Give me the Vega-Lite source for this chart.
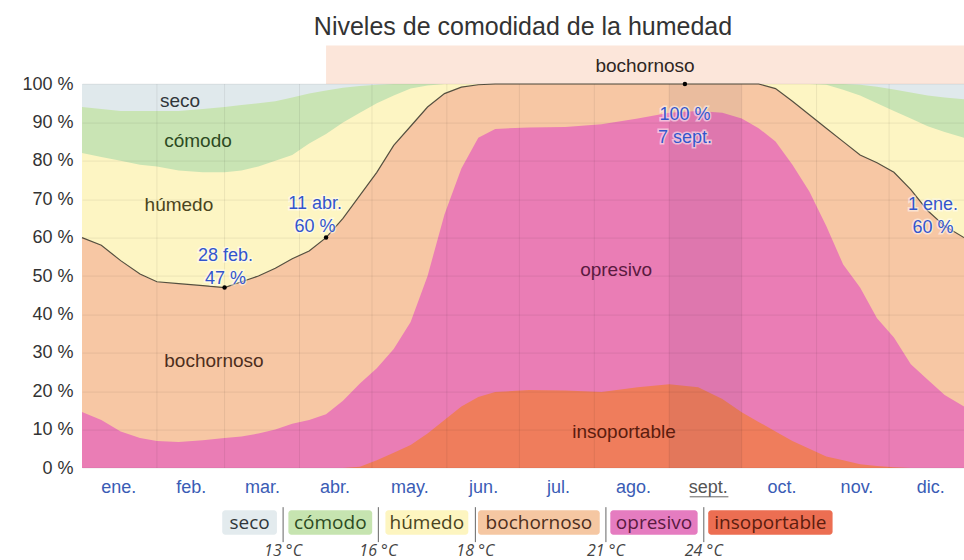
{
  "$schema": "https://vega.github.io/schema/vega-lite/v6.json",
  "width": 882,
  "height": 422.4,
  "autosize": "none",
  "padding": {"left": 82, "top": 45.6, "right": 0, "bottom": 92},
  "background": "white",
  "config": {"view": {"stroke": null}, "font": "Liberation Sans"},
  "title": {"text": "Niveles de comodidad de la humedad", "fontSize": 25, "font": "Liberation Sans", "fontWeight": "normal", "color": "#333333", "anchor": "middle", "frame": "group", "offset": -14, "baseline": "alphabetic"},
  "datasets": {
    "comfort": [
      {"d": 0, "I": 0, "O": 14.6, "B": 60, "H": 82, "C": 94},
      {"d": 8, "I": 0, "O": 12.5, "B": 58, "H": 81, "C": 93.5},
      {"d": 16, "I": 0, "O": 9.5, "B": 54, "H": 80, "C": 93},
      {"d": 24, "I": 0, "O": 7.8, "B": 50.5, "H": 79, "C": 93},
      {"d": 31, "I": 0, "O": 7, "B": 48.5, "H": 78.5, "C": 93},
      {"d": 40, "I": 0, "O": 6.8, "B": 48, "H": 77.5, "C": 93},
      {"d": 50, "I": 0, "O": 7.2, "B": 47.5, "H": 77, "C": 93.5},
      {"d": 59, "I": 0, "O": 7.8, "B": 47, "H": 77, "C": 94},
      {"d": 66, "I": 0, "O": 8.2, "B": 48.5, "H": 77.5, "C": 94.5},
      {"d": 73, "I": 0, "O": 9, "B": 50, "H": 78.5, "C": 95},
      {"d": 80, "I": 0, "O": 10, "B": 52, "H": 80, "C": 95.5},
      {"d": 87, "I": 0, "O": 11.5, "B": 54.5, "H": 81.5, "C": 96.5},
      {"d": 94, "I": 0, "O": 12.5, "B": 56.5, "H": 84.5, "C": 97.5},
      {"d": 101, "I": 0, "O": 14, "B": 60, "H": 87, "C": 98.3},
      {"d": 108, "I": 0, "O": 17.5, "B": 65, "H": 90, "C": 99},
      {"d": 115, "I": 0.3, "O": 22, "B": 71, "H": 92.5, "C": 99.5},
      {"d": 122, "I": 2, "O": 26, "B": 77, "H": 95, "C": 99.8},
      {"d": 129, "I": 4, "O": 31, "B": 84, "H": 97, "C": 100},
      {"d": 136, "I": 6, "O": 38, "B": 89, "H": 98.8, "C": 100},
      {"d": 143, "I": 9, "O": 50, "B": 94, "H": 99.6, "C": 100},
      {"d": 150, "I": 12.5, "O": 66, "B": 97.5, "H": 100, "C": 100},
      {"d": 157, "I": 16, "O": 78, "B": 99.2, "H": 100, "C": 100},
      {"d": 164, "I": 18.5, "O": 86, "B": 99.8, "H": 100, "C": 100},
      {"d": 171, "I": 19.8, "O": 88.3, "B": 100, "H": 100, "C": 100},
      {"d": 185, "I": 20.3, "O": 88.7, "B": 100, "H": 100, "C": 100},
      {"d": 200, "I": 20.2, "O": 88.8, "B": 100, "H": 100, "C": 100},
      {"d": 215, "I": 19.8, "O": 89.5, "B": 100, "H": 100, "C": 100},
      {"d": 230, "I": 21, "O": 91, "B": 100, "H": 100, "C": 100},
      {"d": 243, "I": 21.8, "O": 92.5, "B": 100, "H": 100, "C": 100},
      {"d": 255, "I": 21, "O": 93, "B": 100, "H": 100, "C": 100},
      {"d": 265, "I": 18, "O": 92.5, "B": 100, "H": 100, "C": 100},
      {"d": 273, "I": 14.5, "O": 91, "B": 100, "H": 100, "C": 100},
      {"d": 280, "I": 12, "O": 88.5, "B": 100, "H": 100, "C": 100},
      {"d": 287, "I": 9.5, "O": 85, "B": 98.8, "H": 100, "C": 100},
      {"d": 294, "I": 7, "O": 79, "B": 95.5, "H": 100, "C": 100},
      {"d": 301, "I": 5, "O": 72, "B": 92, "H": 100, "C": 100},
      {"d": 308, "I": 3, "O": 63, "B": 88.5, "H": 99.8, "C": 100},
      {"d": 315, "I": 2, "O": 53, "B": 85, "H": 98.5, "C": 100},
      {"d": 322, "I": 1, "O": 47, "B": 81.5, "H": 97, "C": 99.8},
      {"d": 329, "I": 0.5, "O": 39, "B": 79.5, "H": 95, "C": 99.3},
      {"d": 336, "I": 0.2, "O": 34, "B": 77, "H": 93, "C": 98.6},
      {"d": 343, "I": 0, "O": 27, "B": 72.5, "H": 91, "C": 97.8},
      {"d": 350, "I": 0, "O": 23, "B": 67, "H": 89, "C": 97},
      {"d": 357, "I": 0, "O": 19, "B": 63, "H": 87.5, "C": 96.5},
      {"d": 365, "I": 0, "O": 16, "B": 60, "H": 86, "C": 96}
    ],
    "notes": [
      {"k": "feb", "d": 59, "v": 47, "t": "28 feb.\n47 %"},
      {"k": "abr", "d": 101, "v": 60, "t": "11 abr.\n60 %"},
      {"k": "sep", "d": 249.5, "v": 100, "t": "100 %\n7 sept."},
      {"k": "ene", "d": 365, "v": 60, "t": "1 ene.\n60 %"}
    ],
    "regions": [
      {"cat": "seco", "d": 40.6, "v": 95.6},
      {"cat": "cómodo", "d": 48, "v": 85.2},
      {"cat": "húmedo", "d": 40.1, "v": 68.5},
      {"cat": "bochornoso", "d": 54.6, "v": 27.9},
      {"cat": "opresivo", "d": 221, "v": 51.6},
      {"cat": "insoportable", "d": 224.3, "v": 9.4}
    ],
    "months": [
      {"m": 31}, {"m": 59}, {"m": 90}, {"m": 120}, {"m": 151}, {"m": 181},
      {"m": 212}, {"m": 243}, {"m": 273}, {"m": 304}, {"m": 334}
    ],
    "legend": [
      {"cat": "seco", "a": 15.9, "b": 22.1, "m": 19.0},
      {"cat": "cómodo", "a": 23.4, "b": 32.9, "m": 28.15},
      {"cat": "húmedo", "a": 34.4, "b": 43.8, "m": 39.1},
      {"cat": "bochornoso", "a": 44.9, "b": 58.7, "m": 51.8},
      {"cat": "opresivo", "a": 59.9, "b": 69.8, "m": 64.85},
      {"cat": "insoportable", "a": 71.0, "b": 85.1, "m": 78.05}
    ],
    "temps": [
      {"t": "13 °C", "s": 22.8},
      {"t": "16 °C", "s": 33.6},
      {"t": "18 °C", "s": 44.6},
      {"t": "21 °C", "s": 59.4},
      {"t": "24 °C", "s": 70.5}
    ]
  },
  "layer": [
    {
      "data": {"name": "comfort"},
      "layer": [
        {
          "mark": {"type": "area", "color": "#e0e9ec"},
          "encoding": {
            "x": {"field": "d", "type": "quantitative", "scale": {"domain": [0, 365], "nice": false, "zero": false},
              "axis": {"values": [15, 45, 74.5, 104.5, 135.5, 166, 197, 228, 259, 289.5, 320.5, 351],
                "labelExpr": "['ene.','feb.','mar.','abr.','may.','jun.','jul.','ago.','sept.','oct.','nov.','dic.'][indexof([15, 45, 74.5, 104.5, 135.5, 166, 197, 228, 259, 289.5, 320.5, 351], datum.value)]",
                "ticks": false, "domain": false, "grid": false, "labelFontSize": 18, "labelFont": "Liberation Sans",
                "labelColor": {"condition": {"test": "datum.value == 259", "value": "#555555"}, "value": "#3a5cb5"},
                "labelPadding": 10, "title": null}},
            "y": {"datum": 100, "type": "quantitative", "scale": {"domain": [0, 110], "nice": false},
              "axis": {"values": [0, 10, 20, 30, 40, 50, 60, 70, 80, 90, 100], "labelExpr": "datum.value + ' %'",
                "labelFontSize": 18, "labelFont": "Liberation Sans", "labelColor": "#333333", "ticks": false, "domain": false,
                "labelPadding": 9, "grid": true, "gridColor": "#000000", "gridOpacity": 0.07, "zindex": 1, "title": null}}
          }
        },
        {"mark": {"type": "area", "color": "#c9e4b4"}, "encoding": {"x": {"field": "d", "type": "quantitative"}, "y": {"field": "C", "type": "quantitative", "stack": null}}},
        {"mark": {"type": "area", "color": "#fdf5c3"}, "encoding": {"x": {"field": "d", "type": "quantitative"}, "y": {"field": "H", "type": "quantitative", "stack": null}}},
        {"mark": {"type": "area", "color": "#f7c7a4"}, "encoding": {"x": {"field": "d", "type": "quantitative"}, "y": {"field": "B", "type": "quantitative", "stack": null}}},
        {"mark": {"type": "area", "color": "#ea7db5"}, "encoding": {"x": {"field": "d", "type": "quantitative"}, "y": {"field": "O", "type": "quantitative", "stack": null}}},
        {"mark": {"type": "area", "color": "#ef7d5c"}, "encoding": {"x": {"field": "d", "type": "quantitative"}, "y": {"field": "I", "type": "quantitative", "stack": null}}},
        {
          "data": {"values": [{"a": 243, "b": 273}]},
          "mark": {"type": "rect", "color": "#4b2a5a", "opacity": 0.07},
          "encoding": {"x": {"field": "a", "type": "quantitative"}, "x2": {"field": "b"}, "y": {"datum": 0}, "y2": {"datum": 100}}
        },
        {
          "data": {"values": [{"a": 101, "b": 365}]},
          "mark": {"type": "rect", "color": "#fce6da"},
          "encoding": {"x": {"field": "a", "type": "quantitative"}, "x2": {"field": "b"}, "y": {"datum": 100}, "y2": {"datum": 110}}
        },
        {
          "data": {"name": "months"},
          "mark": {"type": "rule", "color": "#000000", "opacity": 0.07, "strokeWidth": 1},
          "encoding": {"x": {"field": "m", "type": "quantitative"}, "y": {"datum": 0}, "y2": {"datum": 100}}
        },
        {
          "mark": {"type": "line", "color": "#555040", "strokeWidth": 1.2},
          "encoding": {"x": {"field": "d", "type": "quantitative"}, "y": {"field": "B", "type": "quantitative", "stack": null}}
        },
        {
          "data": {"name": "notes"},
          "transform": [{"filter": "datum.k != 'ene'"}],
          "mark": {"type": "point", "filled": true, "color": "#000000", "size": 20, "opacity": 1},
          "encoding": {"x": {"field": "d", "type": "quantitative"}, "y": {"field": "v", "type": "quantitative"}}
        },
        {
          "data": {"name": "regions"},
          "mark": {"type": "text", "fontSize": 19, "font": "Liberation Sans", "align": "center", "baseline": "middle"},
          "encoding": {
            "x": {"field": "d", "type": "quantitative"}, "y": {"field": "v", "type": "quantitative"},
            "text": {"field": "cat"},
            "fill": {"field": "cat", "type": "nominal", "legend": null,
              "scale": {"domain": ["seco", "cómodo", "húmedo", "bochornoso", "opresivo", "insoportable"],
                "range": ["#30363a", "#2c4a22", "#4a4420", "#4d2e1c", "#5a1a40", "#5c1c0e"]}}
          }
        },
        {
          "data": {"values": [{"t": "bochornoso", "d": 233, "v": 104.6}]},
          "mark": {"type": "text", "fontSize": 19, "font": "Liberation Sans", "align": "center", "baseline": "middle", "color": "#2e2622"},
          "encoding": {"x": {"field": "d", "type": "quantitative"}, "y": {"field": "v", "type": "quantitative"}, "text": {"field": "t"}}
        },
        {
          "data": {"name": "notes"},
          "transform": [{"filter": "datum.k == 'feb'"}],
          "encoding": {"x": {"field": "d", "type": "quantitative"}, "y": {"field": "v", "type": "quantitative"}, "text": {"field": "t"}},
          "layer": [
            {"mark": {"type": "text", "lineBreak": "\n", "lineHeight": 23, "fontSize": 18, "align": "center", "baseline": "middle", "dx": 1, "dy": -31.5, "fill": "#ffffff", "stroke": "#ffffff", "strokeWidth": 3, "strokeOpacity": 0.5, "fillOpacity": 0.5}},
            {"mark": {"type": "text", "lineBreak": "\n", "lineHeight": 23, "fontSize": 18, "align": "center", "baseline": "middle", "dx": 1, "dy": -31.5, "fill": "#3355cc"}}
          ]
        },
        {
          "data": {"name": "notes"},
          "transform": [{"filter": "datum.k == 'abr'"}],
          "encoding": {"x": {"field": "d", "type": "quantitative"}, "y": {"field": "v", "type": "quantitative"}, "text": {"field": "t"}},
          "layer": [
            {"mark": {"type": "text", "lineBreak": "\n", "lineHeight": 23, "fontSize": 18, "align": "center", "baseline": "middle", "dx": -11, "dy": -33.5, "fill": "#ffffff", "stroke": "#ffffff", "strokeWidth": 3, "strokeOpacity": 0.5, "fillOpacity": 0.5}},
            {"mark": {"type": "text", "lineBreak": "\n", "lineHeight": 23, "fontSize": 18, "align": "center", "baseline": "middle", "dx": -11, "dy": -33.5, "fill": "#3355cc"}}
          ]
        },
        {
          "data": {"name": "notes"},
          "transform": [{"filter": "datum.k == 'sep'"}],
          "encoding": {"x": {"field": "d", "type": "quantitative"}, "y": {"field": "v", "type": "quantitative"}, "text": {"field": "t"}},
          "layer": [
            {"mark": {"type": "text", "lineBreak": "\n", "lineHeight": 23, "fontSize": 18, "align": "center", "baseline": "middle", "dx": 0, "dy": 30.5, "fill": "#ffffff", "stroke": "#ffffff", "strokeWidth": 3, "strokeOpacity": 0.5, "fillOpacity": 0.5}},
            {"mark": {"type": "text", "lineBreak": "\n", "lineHeight": 23, "fontSize": 18, "align": "center", "baseline": "middle", "dx": 0, "dy": 30.5, "fill": "#3355cc"}}
          ]
        },
        {
          "data": {"name": "notes"},
          "transform": [{"filter": "datum.k == 'ene'"}],
          "encoding": {"x": {"field": "d", "type": "quantitative"}, "y": {"field": "v", "type": "quantitative"}, "text": {"field": "t"}},
          "layer": [
            {"mark": {"type": "text", "lineBreak": "\n", "lineHeight": 23, "fontSize": 18, "align": "center", "baseline": "middle", "dx": -31, "dy": -32.5, "fill": "#ffffff", "stroke": "#ffffff", "strokeWidth": 3, "strokeOpacity": 0.5, "fillOpacity": 0.5}},
            {"mark": {"type": "text", "lineBreak": "\n", "lineHeight": 23, "fontSize": 18, "align": "center", "baseline": "middle", "dx": -31, "dy": -32.5, "fill": "#3355cc"}}
          ]
        },
        {
          "data": {"values": [{"a": 251.5, "b": 267.5, "v": -7.5}]},
          "mark": {"type": "rule", "color": "#666666", "strokeWidth": 1},
          "encoding": {"x": {"field": "a", "type": "quantitative"}, "x2": {"field": "b"}, "y": {"field": "v", "type": "quantitative"}}
        }
      ]
    },
    {
      "layer": [
        {
          "data": {"name": "legend"},
          "mark": {"type": "rect", "cornerRadius": 3},
          "encoding": {
            "x": {"field": "a", "type": "quantitative", "scale": {"domain": [0, 100], "nice": false, "zero": false}, "axis": null},
            "x2": {"field": "b"},
            "y": {"datum": -11, "type": "quantitative", "scale": {"domain": [0, 110], "nice": false}},
            "y2": {"datum": -17.4},
            "color": {"field": "cat", "type": "nominal", "legend": null,
              "scale": {"domain": ["seco", "cómodo", "húmedo", "bochornoso", "opresivo", "insoportable"],
                "range": ["#e3ebee", "#c6e4b0", "#fdf5c0", "#f5c7a2", "#e57cc0", "#ec6e52"]}}
          }
        },
        {
          "data": {"name": "legend"},
          "mark": {"type": "text", "fontSize": 19, "font": "Open Sans", "align": "center", "baseline": "middle"},
          "encoding": {
            "x": {"field": "m", "type": "quantitative", "axis": null},
            "y": {"datum": -14.3, "type": "quantitative"},
            "text": {"field": "cat"},
            "fill": {"field": "cat", "type": "nominal", "legend": null}
          }
        },
        {
          "data": {"name": "temps"},
          "mark": {"type": "rule", "color": "#666666", "strokeWidth": 1},
          "encoding": {
            "x": {"field": "s", "type": "quantitative", "axis": null},
            "y": {"datum": -10.2, "type": "quantitative"},
            "y2": {"datum": -19.3}
          }
        },
        {
          "data": {"name": "temps"},
          "mark": {"type": "text", "fontSize": 16, "font": "Open Sans", "fontStyle": "italic", "align": "center", "baseline": "middle", "color": "#444444"},
          "encoding": {
            "x": {"field": "s", "type": "quantitative", "axis": null},
            "y": {"datum": -21.6, "type": "quantitative"},
            "text": {"field": "t"}
          }
        }
      ]
    }
  ],
  "resolve": {"scale": {"x": "independent"}}
}
